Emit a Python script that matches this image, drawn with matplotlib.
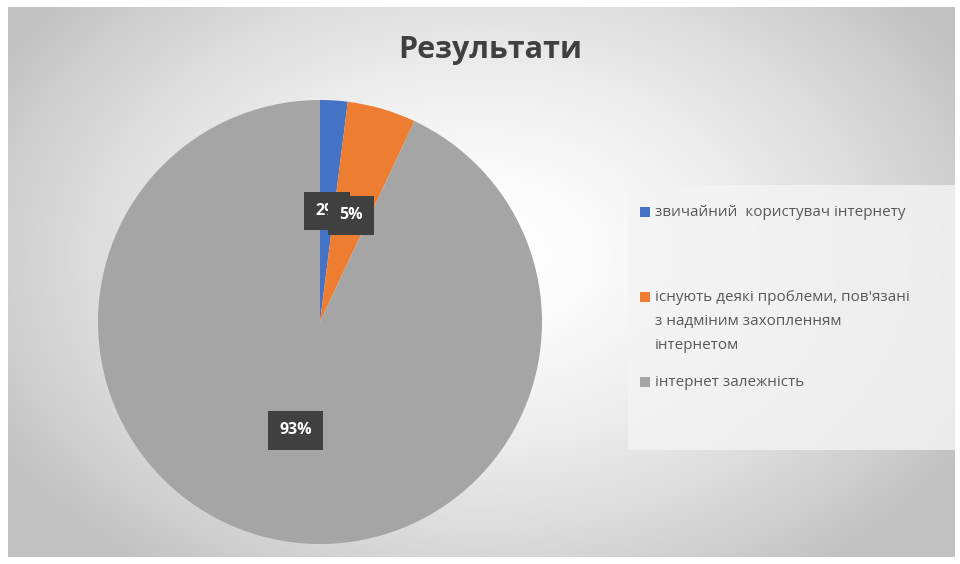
import numpy as np
import matplotlib.pyplot as plt
from matplotlib.patches import Rectangle

title = "Результати"
labels = ["звичайний  користувач інтернету",
          "існують деякі проблеми, пов'язані\nз надміним захопленням\nінтернетом",
          "інтернет залежність"]
values = [2, 5, 93]
colors = ["#4472C4", "#ED7D31", "#A5A5A5"]

W, H = 960, 564
fig = plt.figure(figsize=(W/100, H/100), dpi=100)
fig.patch.set_facecolor("white")

# background panel with radial gradient
bg = fig.add_axes([8/W, 7/H, 947/W, 550/H])
bg.set_axis_off()
yy, xx = np.mgrid[0:1:300j, 0:1:500j]
r = np.sqrt(((xx-0.5)/0.62)**2 + ((yy-0.45)/0.75)**2)
g = np.clip(1.0 - 0.26*r**1.6, 0.76, 1.0)
img = np.dstack([g, g, g])
bg.imshow(img, extent=[0, 1, 0, 1], aspect="auto", origin="upper")
bg.set_xlim(0, 1); bg.set_ylim(0, 1)
# legend area lighter box
bg.add_patch(Rectangle(((628-8)/947, (557-450)/550), (955-628)/947, (450-185)/550,
                       facecolor="#f4f4f4", edgecolor="none", alpha=0.8))

# pie
cx, cy, R = 320, 322, 222
ax = fig.add_axes([(cx-R)/W, (H-cy-R)/H, 2*R/W, 2*R/H])
wedges, texts, autotexts = ax.pie(values, colors=colors, startangle=90, counterclock=False,
                                  autopct=lambda p: f"{p:.0f}%", pctdistance=0.5,
                                  wedgeprops=dict(linewidth=0))
for t in autotexts:
    t.set_color("white")
    t.set_fontsize(11.5)
    t.set_fontweight("bold")
    t.set_family("Open Sans")
    t.set_bbox(dict(boxstyle="square,pad=0.7", facecolor="#404040", edgecolor="none"))
ax.set_xlim(-1, 1)
ax.set_ylim(-1, 1)
ax.set_aspect("equal")

fig.text(490/W, 1-50/H, title, ha="center", va="center", fontsize=22,
         fontweight="bold", color="#404040", family="Open Sans")

# legend
ys = [212, 297, 382]
for lab, col, y in zip(labels, colors, ys):
    fig.patches.append(Rectangle((640/W, 1-(y+5)/H), 10/W, 10/H, transform=fig.transFigure,
                                 facecolor=col, edgecolor="none"))
    fig.text(655/W, 1-(y-7)/H, lab, ha="left", va="top", fontsize=11, color="#595959",
             family="Open Sans", linespacing=1.8)

fig.savefig("out.png", dpi=100)
